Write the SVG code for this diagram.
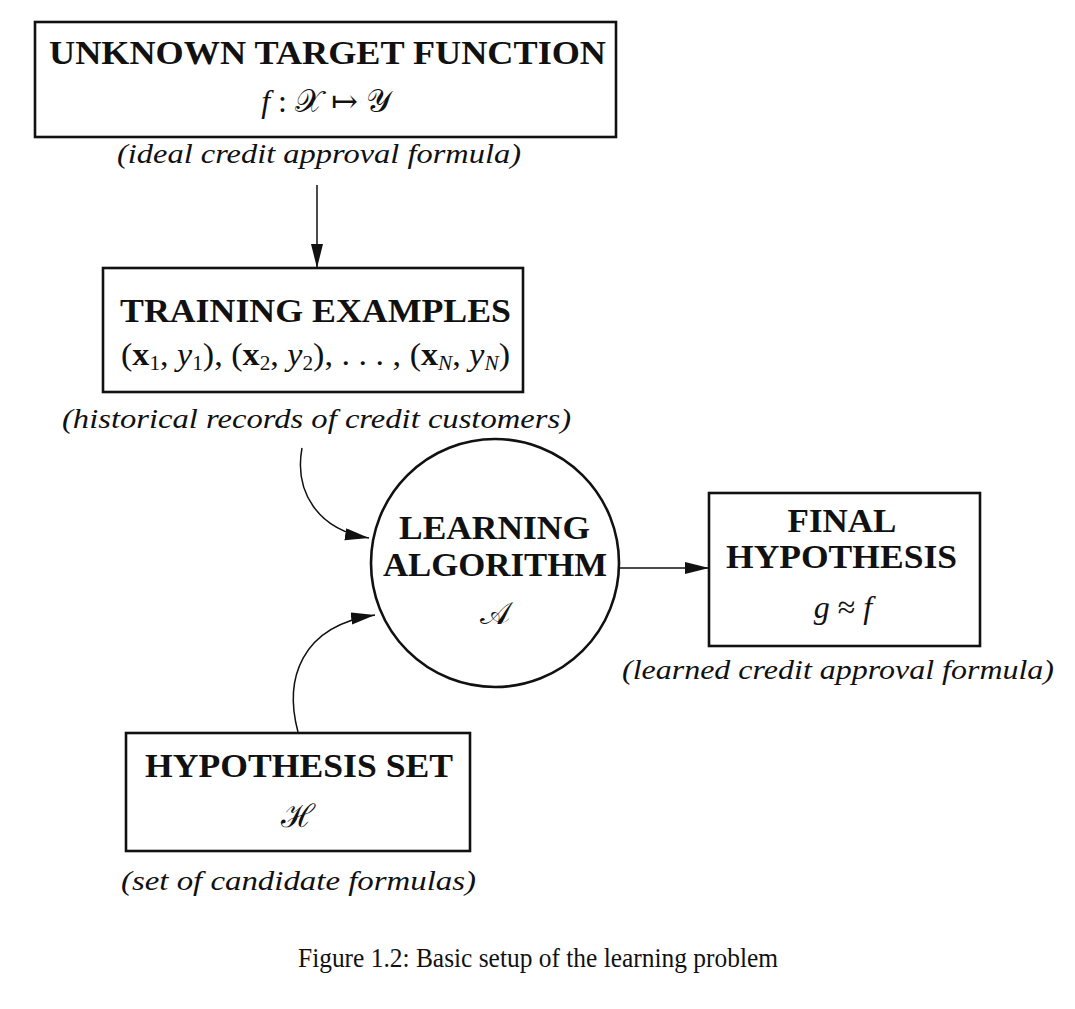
<svg xmlns="http://www.w3.org/2000/svg" width="1075" height="1009" viewBox="0 0 1075 1009">
<style>
.box{fill:none;stroke:#111;stroke-width:2.6}
.conn{fill:none;stroke:#111;stroke-width:1.5}
.hd{font-family:"Liberation Serif",serif;font-weight:bold;font-size:34px;fill:#111}
.it{font-family:"Liberation Serif",serif;font-style:italic;font-size:27px;fill:#111}
.mt{font-family:"Liberation Serif","DejaVu Serif",serif;font-size:32px;fill:#111}
.cap{font-family:"Liberation Serif",serif;font-size:27px;fill:#111}
</style>
<defs>
<marker id="ah" markerUnits="userSpaceOnUse" markerWidth="26" markerHeight="14" refX="24" refY="6" orient="auto">
<path d="M0,0 L24,6 L0,12 z" fill="#111"/>
</marker>
</defs>
<rect width="1075" height="1009" fill="#fff"/>
<g id="target">
<rect class="box" x="35" y="22" width="581" height="115"/>
<text class="hd" x="49" y="64" textLength="557" lengthAdjust="spacingAndGlyphs">UNKNOWN TARGET FUNCTION</text>
<text class="mt" x="326" y="112" text-anchor="middle"><tspan font-style="italic">f</tspan> : 𝒳 ↦ 𝒴</text>
<text class="it" x="117" y="163" textLength="404" lengthAdjust="spacingAndGlyphs">(ideal credit approval formula)</text>
</g>
<g id="training">
<rect class="box" x="103" y="268" width="420" height="124"/>
<text class="hd" x="120" y="322" textLength="391" lengthAdjust="spacingAndGlyphs">TRAINING EXAMPLES</text>
<text class="mt" x="121" y="365" textLength="389" lengthAdjust="spacingAndGlyphs">(<tspan font-weight="bold">x</tspan><tspan font-size="20" dy="5">1</tspan><tspan dy="-5">, </tspan><tspan font-style="italic">y</tspan><tspan font-size="20" dy="5">1</tspan><tspan dy="-5">), (</tspan><tspan font-weight="bold">x</tspan><tspan font-size="20" dy="5">2</tspan><tspan dy="-5">, </tspan><tspan font-style="italic">y</tspan><tspan font-size="20" dy="5">2</tspan><tspan dy="-5">), . . . , (</tspan><tspan font-weight="bold">x</tspan><tspan font-size="20" font-style="italic" dy="5">N</tspan><tspan dy="-5">, </tspan><tspan font-style="italic">y</tspan><tspan font-size="20" font-style="italic" dy="5">N</tspan><tspan dy="-5">)</tspan></text>
<text class="it" x="62" y="428" textLength="509" lengthAdjust="spacingAndGlyphs">(historical records of credit customers)</text>
</g>
<g id="algorithm">
<circle class="box" cx="495" cy="563" r="124"/>
<text class="hd" x="399" y="539" textLength="191" lengthAdjust="spacingAndGlyphs">LEARNING</text>
<text class="hd" x="383" y="576" textLength="224" lengthAdjust="spacingAndGlyphs">ALGORITHM</text>
<text class="mt" x="495" y="624" text-anchor="middle">𝒜</text>
</g>
<g id="final">
<rect class="box" x="709" y="493" width="271" height="153"/>
<text class="hd" x="842" y="532" textLength="109" lengthAdjust="spacingAndGlyphs" text-anchor="middle">FINAL</text>
<text class="hd" x="726" y="568" textLength="231" lengthAdjust="spacingAndGlyphs">HYPOTHESIS</text>
<text class="mt" x="843" y="618" text-anchor="middle"><tspan font-style="italic">g</tspan> ≈ <tspan font-style="italic">f</tspan></text>
<text class="it" x="622" y="679" textLength="432" lengthAdjust="spacingAndGlyphs">(learned credit approval formula)</text>
</g>
<g id="hypset">
<rect class="box" x="126" y="733" width="344" height="118"/>
<text class="hd" x="145" y="777" textLength="308" lengthAdjust="spacingAndGlyphs">HYPOTHESIS SET</text>
<text class="mt" x="298" y="827" text-anchor="middle">ℋ</text>
<text class="it" x="121" y="890" textLength="355" lengthAdjust="spacingAndGlyphs">(set of candidate formulas)</text>
</g>
<g id="connectors">
<path class="conn" d="M317,185 L317,268" marker-end="url(#ah)"/>
<path class="conn" d="M302,448 C294,492 318,530 369,538" marker-end="url(#ah)"/>
<path class="conn" d="M298,732 C284,680 300,626 375,615" marker-end="url(#ah)"/>
<path class="conn" d="M620,568 L709,568" marker-end="url(#ah)"/>
</g>
<text class="cap" x="298" y="967" textLength="480" lengthAdjust="spacingAndGlyphs">Figure 1.2: Basic setup of the learning problem</text>
</svg>
